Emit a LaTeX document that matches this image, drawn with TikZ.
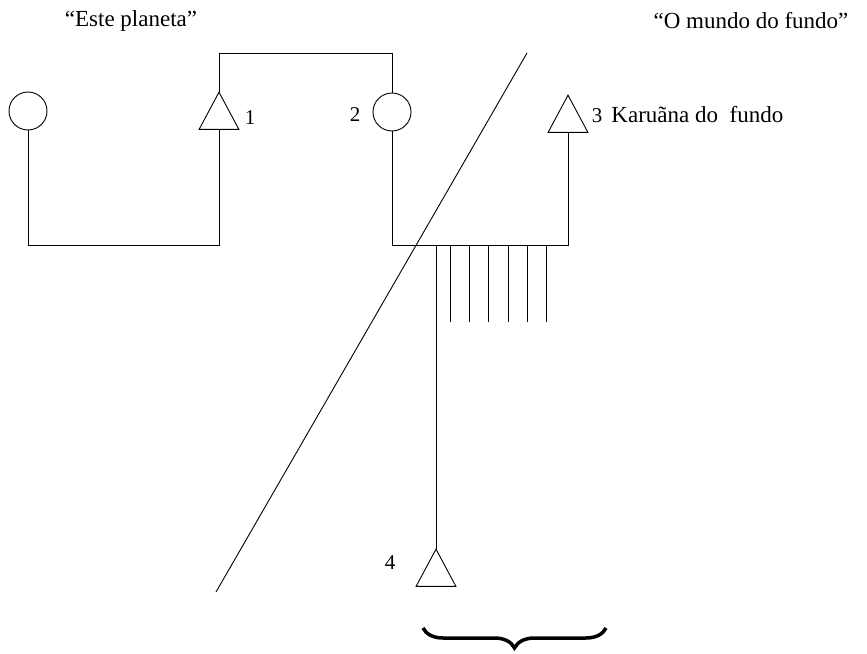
\documentclass[tikz,border=0pt]{standalone}
\usepackage{fontspec}
\setmainfont{Liberation Serif}
\usetikzlibrary{shapes.geometric,decorations.pathreplacing}
\begin{document}
\begin{tikzpicture}[x=1pt,y=1pt,line width=0.9pt,
  ring/.style={circle,draw,inner sep=0pt,outer sep=0pt,minimum size=38pt},
  tri/.style={regular polygon,regular polygon sides=3,draw,inner sep=0pt,outer sep=0pt,minimum size=46pt,yscale=1.08},
  lab/.style={font=\fontsize{23}{26}\selectfont,inner sep=0pt},
  num/.style={font=\fontsize{21}{24}\selectfont,inner sep=0pt}]
\useasboundingbox (0,0) rectangle (867,-653);
% titles
\node[lab] (tl) at (131,-21) {“Este planeta”};
\node[lab] (tr) at (751,-21) {“O mundo do fundo”};
% symbols
\node[ring] (c0) at (28,-111) {};
\node[tri] (t1) at (219,-117) {};
\node[ring] (c2) at (392,-112) {};
\node[tri] (t3) at (568,-120) {};
\node[tri] (t4) at (436,-574) {};
% labels
\node[num] (n1) at (250,-118) {1};
\node[num] (n2) at (355,-115) {2};
\node[num] (n3) at (597,-116) {3};
\node[lab,anchor=west] (k3) at (611,-115) {Karuãna do\ \ fundo};
\node[num] (n4) at (390,-563) {4};
% coordinates
\coordinate (bl) at (28,-245);
\coordinate (topr) at (392,-53);
\coordinate (hr) at (568,-245);
\coordinate (d1) at (527,-53);
\coordinate (d2) at (216,-592);
% connectors
\draw (c0.south) -- (bl) -| (t1.south);
\draw (t1.north) |- (topr) -- (c2.north);
\draw (c2.south) |- (hr) -- (t3.south);
\draw (d1) -- (d2);
% fringe
\coordinate (f1) at (436,-245);
\draw (f1) -- (t4.north);
\foreach \x/\i in {450/2,469/3,488/4,508/5,527/6,546/7}{
  \coordinate (fa\i) at (\x,-245);
  \coordinate (fb\i) at (\x,-322);
  \draw (fa\i) -- (fb\i);
}
% brace
\coordinate (b1) at (423,-628);
\coordinate (b2) at (606,-628);
\draw[decorate,decoration={brace,mirror,amplitude=20pt},line width=3.5pt] (b1) -- (b2);
\end{tikzpicture}
\end{document}
